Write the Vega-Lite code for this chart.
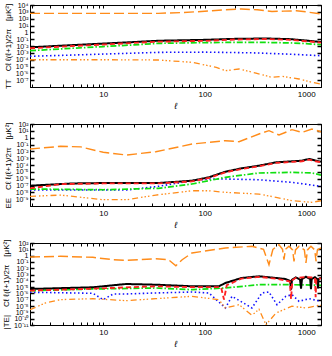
{
  "$schema": "https://vega.github.io/schema/vega-lite/v6.json",
  "padding": {"left": 2, "top": 0, "right": 4, "bottom": 0},
  "bounds": "flush",
  "spacing": 37,
  "config": {
    "font": "Liberation Sans",
    "view": {"stroke": "black", "strokeWidth": 1},
    "axis": {"grid": false, "domainColor": "black", "tickColor": "black", "labelColor": "black", "titleColor": "black", "labelFont": "Liberation Sans", "titleFont": "Liberation Sans", "titleFontWeight": "normal", "labelFlush": false, "labelBound": false, "labelOverlap": false}
  },
  "datasets": {
    "cl": [
      {"panel":"TT","series":"E","l":1.9,"cl":600},{"panel":"TT","series":"E","l":5,"cl":600},{"panel":"TT","series":"E","l":10,"cl":600},{"panel":"TT","series":"E","l":35,"cl":600},{"panel":"TT","series":"E","l":60,"cl":790},{"panel":"TT","series":"E","l":100,"cl":1200},{"panel":"TT","series":"E","l":160,"cl":2000},{"panel":"TT","series":"E","l":230,"cl":2600},{"panel":"TT","series":"E","l":330,"cl":2000},{"panel":"TT","series":"E","l":460,"cl":1120},{"panel":"TT","series":"E","l":600,"cl":1260},{"panel":"TT","series":"E","l":800,"cl":1410},{"panel":"TT","series":"E","l":1000,"cl":1000},{"panel":"TT","series":"E","l":1400,"cl":480},
      {"panel":"TT","series":"D","l":1.9,"cl":3.09e-4},{"panel":"TT","series":"D","l":5,"cl":4.79e-4},{"panel":"TT","series":"D","l":10,"cl":6.61e-4},{"panel":"TT","series":"D","l":20,"cl":9.12e-4},{"panel":"TT","series":"D","l":35,"cl":1.17e-3},{"panel":"TT","series":"D","l":100,"cl":1.26e-3},{"panel":"TT","series":"D","l":300,"cl":1e-3},{"panel":"TT","series":"D","l":700,"cl":6.31e-4},{"panel":"TT","series":"D","l":1400,"cl":3.8e-4},
      {"panel":"TT","series":"C","l":1.9,"cl":2.04e-3},{"panel":"TT","series":"C","l":5,"cl":4.68e-3},{"panel":"TT","series":"C","l":10,"cl":8.32e-3},{"panel":"TT","series":"C","l":20,"cl":1.45e-2},{"panel":"TT","series":"C","l":35,"cl":2.45e-2},{"panel":"TT","series":"C","l":100,"cl":3.16e-2},{"panel":"TT","series":"C","l":340,"cl":3.47e-2},{"panel":"TT","series":"C","l":700,"cl":2.82e-2},{"panel":"TT","series":"C","l":1000,"cl":2.24e-2},{"panel":"TT","series":"C","l":1400,"cl":1.55e-2},
      {"panel":"TT","series":"A","l":1.9,"cl":6.46e-3},{"panel":"TT","series":"A","l":5,"cl":1.35e-2},{"panel":"TT","series":"A","l":10,"cl":2.24e-2},{"panel":"TT","series":"A","l":20,"cl":3.8e-2},{"panel":"TT","series":"A","l":35,"cl":5.89e-2},{"panel":"TT","series":"A","l":100,"cl":7.94e-2},{"panel":"TT","series":"A","l":200,"cl":0.112},{"panel":"TT","series":"A","l":400,"cl":0.126},{"panel":"TT","series":"A","l":700,"cl":0.1},{"panel":"TT","series":"A","l":1000,"cl":6.31e-2},{"panel":"TT","series":"A","l":1400,"cl":3.8e-2},
      {"panel":"TT","series":"B","l":1.9,"cl":4.68e-3},{"panel":"TT","series":"B","l":5,"cl":1e-2},{"panel":"TT","series":"B","l":10,"cl":1.66e-2},{"panel":"TT","series":"B","l":20,"cl":2.82e-2},{"panel":"TT","series":"B","l":35,"cl":4.27e-2},{"panel":"TT","series":"B","l":100,"cl":5.62e-2},{"panel":"TT","series":"B","l":200,"cl":8.91e-2},{"panel":"TT","series":"B","l":400,"cl":0.105},{"panel":"TT","series":"B","l":700,"cl":7.94e-2},{"panel":"TT","series":"B","l":1000,"cl":5.01e-2},{"panel":"TT","series":"B","l":1400,"cl":3.16e-2},
      {"panel":"TT","series":"F","l":1.9,"cl":9.8e-5},{"panel":"TT","series":"F","l":10,"cl":9.8e-5},{"panel":"TT","series":"F","l":35,"cl":8.9e-5},{"panel":"TT","series":"F","l":75,"cl":4.07e-5},{"panel":"TT","series":"F","l":130,"cl":7.59e-6},{"panel":"TT","series":"F","l":160,"cl":2.4e-6},{"panel":"TT","series":"F","l":218,"cl":4.27e-6},{"panel":"TT","series":"F","l":320,"cl":1.1e-6},{"panel":"TT","series":"F","l":460,"cl":2.57e-7},{"panel":"TT","series":"F","l":577,"cl":3.63e-7},{"panel":"TT","series":"F","l":849,"cl":1.48e-7},{"panel":"TT","series":"F","l":1140,"cl":4.79e-8},{"panel":"TT","series":"F","l":1400,"cl":2.69e-8},

      {"panel":"EE","series":"E","l":1.9,"cl":2.19e-2},{"panel":"EE","series":"E","l":3.8,"cl":5.37e-2},{"panel":"EE","series":"E","l":6,"cl":4.47e-2},{"panel":"EE","series":"E","l":10,"cl":7.24e-3},{"panel":"EE","series":"E","l":17,"cl":2.88e-3},{"panel":"EE","series":"E","l":33,"cl":8.71e-3},{"panel":"EE","series":"E","l":75,"cl":0.117},{"panel":"EE","series":"E","l":160,"cl":0.363},{"panel":"EE","series":"E","l":218,"cl":0.257},{"panel":"EE","series":"E","l":343,"cl":3.47},{"panel":"EE","series":"E","l":430,"cl":10.5},{"panel":"EE","series":"E","l":540,"cl":2.45},{"panel":"EE","series":"E","l":725,"cl":14.8},{"panel":"EE","series":"E","l":910,"cl":6.03},{"panel":"EE","series":"E","l":1140,"cl":18.6},{"panel":"EE","series":"E","l":1400,"cl":7.08},
      {"panel":"EE","series":"D","l":1.9,"cl":2.19e-8},{"panel":"EE","series":"D","l":17,"cl":2.19e-8},{"panel":"EE","series":"D","l":35,"cl":7.59e-8},{"panel":"EE","series":"D","l":75,"cl":5.01e-7},{"panel":"EE","series":"D","l":110,"cl":8.91e-7},{"panel":"EE","series":"D","l":160,"cl":8.91e-7},{"panel":"EE","series":"D","l":343,"cl":6.92e-7},{"panel":"EE","series":"D","l":725,"cl":2.88e-7},{"panel":"EE","series":"D","l":1400,"cl":7.59e-8},
      {"panel":"EE","series":"C","l":1.9,"cl":3.02e-8},{"panel":"EE","series":"C","l":10,"cl":2.4e-8},{"panel":"EE","series":"C","l":35,"cl":3.89e-8},{"panel":"EE","series":"C","l":75,"cl":1.66e-7},{"panel":"EE","series":"C","l":160,"cl":1.58e-6},{"panel":"EE","series":"C","l":343,"cl":6.76e-6},{"panel":"EE","series":"C","l":725,"cl":8.51e-6},{"panel":"EE","series":"C","l":1140,"cl":6.76e-6},{"panel":"EE","series":"C","l":1400,"cl":3.39e-6},
      {"panel":"EE","series":"A","l":1.9,"cl":9.33e-8},{"panel":"EE","series":"A","l":5,"cl":2.0e-7},{"panel":"EE","series":"A","l":10,"cl":2.29e-7},{"panel":"EE","series":"A","l":35,"cl":2.29e-7},{"panel":"EE","series":"A","l":75,"cl":5.01e-7},{"panel":"EE","series":"A","l":110,"cl":1.58e-6},{"panel":"EE","series":"A","l":160,"cl":1.05e-5},{"panel":"EE","series":"A","l":230,"cl":3.24e-5},{"panel":"EE","series":"A","l":343,"cl":7.94e-5},{"panel":"EE","series":"A","l":505,"cl":2.45e-4},{"panel":"EE","series":"A","l":725,"cl":3.47e-4},{"panel":"EE","series":"A","l":910,"cl":4.27e-4},{"panel":"EE","series":"A","l":1067,"cl":7.59e-4},{"panel":"EE","series":"A","l":1240,"cl":4.27e-4},{"panel":"EE","series":"A","l":1400,"cl":3.02e-4},
      {"panel":"EE","series":"B","l":1.9,"cl":3.8e-8},{"panel":"EE","series":"B","l":3.8,"cl":1.58e-7},{"panel":"EE","series":"B","l":10,"cl":2.0e-7},{"panel":"EE","series":"B","l":35,"cl":2.0e-7},{"panel":"EE","series":"B","l":75,"cl":4.0e-7},{"panel":"EE","series":"B","l":110,"cl":1.26e-6},{"panel":"EE","series":"B","l":160,"cl":8.5e-6},{"panel":"EE","series":"B","l":230,"cl":2.6e-5},{"panel":"EE","series":"B","l":343,"cl":6.5e-5},{"panel":"EE","series":"B","l":505,"cl":2.0e-4},{"panel":"EE","series":"B","l":725,"cl":2.8e-4},{"panel":"EE","series":"B","l":910,"cl":3.5e-4},{"panel":"EE","series":"B","l":1067,"cl":6.0e-4},{"panel":"EE","series":"B","l":1240,"cl":3.5e-4},{"panel":"EE","series":"B","l":1400,"cl":2.5e-4},
      {"panel":"EE","series":"F","l":1.9,"cl":2.57e-9},{"panel":"EE","series":"F","l":3.8,"cl":3.98e-9},{"panel":"EE","series":"F","l":10,"cl":8.32e-10},{"panel":"EE","series":"F","l":17,"cl":8.32e-10},{"panel":"EE","series":"F","l":33,"cl":3.98e-9},{"panel":"EE","series":"F","l":75,"cl":1.7e-8},{"panel":"EE","series":"F","l":110,"cl":1.7e-8},{"panel":"EE","series":"F","l":160,"cl":1e-8},{"panel":"EE","series":"F","l":343,"cl":5.62e-9},{"panel":"EE","series":"F","l":505,"cl":1.86e-9},{"panel":"EE","series":"F","l":725,"cl":5.89e-10},{"panel":"EE","series":"F","l":1140,"cl":3.47e-10},{"panel":"EE","series":"F","l":1400,"cl":5.89e-10},

      {"panel":"TE","series":"E","l":1.9,"cl":0.603},{"panel":"TE","series":"E","l":3.8,"cl":0.776},{"panel":"TE","series":"E","l":7.9,"cl":0.537},{"panel":"TE","series":"E","l":12.5,"cl":0.224},{"panel":"TE","series":"E","l":16.8,"cl":0.182},{"panel":"TE","series":"E","l":33,"cl":0.324},{"panel":"TE","series":"E","l":44,"cl":0.224},{"panel":"TE","series":"E","l":52,"cl":0.0251},{"panel":"TE","series":"E","l":60,"cl":0.224},{"panel":"TE","series":"E","l":75,"cl":2.63},{"panel":"TE","series":"E","l":160,"cl":16.2},{"panel":"TE","series":"E","l":292,"cl":30.2},{"panel":"TE","series":"E","l":380,"cl":10},{"panel":"TE","series":"E","l":430,"cl":0.0363},{"panel":"TE","series":"E","l":470,"cl":10},{"panel":"TE","series":"E","l":540,"cl":53.7},{"panel":"TE","series":"E","l":585,"cl":10},{"panel":"TE","series":"E","l":604,"cl":0.224},{"panel":"TE","series":"E","l":625,"cl":10},{"panel":"TE","series":"E","l":677,"cl":30.2},{"panel":"TE","series":"E","l":735,"cl":8},{"panel":"TE","series":"E","l":759,"cl":0.126},{"panel":"TE","series":"E","l":785,"cl":8},{"panel":"TE","series":"E","l":850,"cl":30.2},{"panel":"TE","series":"E","l":960,"cl":8},{"panel":"TE","series":"E","l":995,"cl":0.0676},{"panel":"TE","series":"E","l":1030,"cl":8},{"panel":"TE","series":"E","l":1115,"cl":30.2},{"panel":"TE","series":"E","l":1215,"cl":8},{"panel":"TE","series":"E","l":1250,"cl":0.126},{"panel":"TE","series":"E","l":1290,"cl":8},{"panel":"TE","series":"E","l":1400,"cl":16.2},
      {"panel":"TE","series":"D","l":1.9,"cl":1.55e-6},{"panel":"TE","series":"D","l":7.9,"cl":1.07e-6},{"panel":"TE","series":"D","l":10,"cl":1.05e-7},{"panel":"TE","series":"D","l":12.5,"cl":8.0e-7},{"panel":"TE","series":"D","l":16.8,"cl":8.32e-7},{"panel":"TE","series":"D","l":33,"cl":1.2e-6},{"panel":"TE","series":"D","l":75,"cl":1.7e-6},{"panel":"TE","series":"D","l":110,"cl":1.2e-6},{"panel":"TE","series":"D","l":160,"cl":5.01e-9},{"panel":"TE","series":"D","l":186,"cl":3.55e-7},{"panel":"TE","series":"D","l":292,"cl":5.01e-9},{"panel":"TE","series":"D","l":367,"cl":1.2e-6},{"panel":"TE","series":"D","l":430,"cl":1.7e-6},{"panel":"TE","series":"D","l":516,"cl":1.66e-8},{"panel":"TE","series":"D","l":632,"cl":3.55e-7},{"panel":"TE","series":"D","l":725,"cl":6.46e-7},{"panel":"TE","series":"D","l":850,"cl":5.75e-8},{"panel":"TE","series":"D","l":1067,"cl":1.48e-7},{"panel":"TE","series":"D","l":1400,"cl":5.75e-8},
      {"panel":"TE","series":"C","l":1.9,"cl":2.75e-6},{"panel":"TE","series":"C","l":7.9,"cl":5.13e-6},{"panel":"TE","series":"C","l":33,"cl":7.41e-6},{"panel":"TE","series":"C","l":75,"cl":3.98e-6},{"panel":"TE","series":"C","l":160,"cl":7.41e-6},{"panel":"TE","series":"C","l":343,"cl":2.45e-5},{"panel":"TE","series":"C","l":725,"cl":2.45e-5},{"panel":"TE","series":"C","l":1400,"cl":2.0e-5},
      {"panel":"TE","series":"A","l":1.9,"cl":5.13e-6},{"panel":"TE","series":"A","l":7.9,"cl":9.55e-6},{"panel":"TE","series":"A","l":16.8,"cl":3.16e-5},{"panel":"TE","series":"A","l":33,"cl":2.45e-5},{"panel":"TE","series":"A","l":75,"cl":1.38e-5},{"panel":"TE","series":"A","l":138,"cl":1.38e-5},{"panel":"TE","series":"A","l":160,"cl":4.57e-5},{"panel":"TE","series":"A","l":230,"cl":2.82e-4},{"panel":"TE","series":"A","l":343,"cl":5.25e-4},{"panel":"TE","series":"A","l":505,"cl":2.82e-4},{"panel":"TE","series":"A","l":620,"cl":2.0e-4},{"panel":"TE","series":"A","l":695,"cl":1.0e-4},{"panel":"TE","series":"A","l":710,"cl":4.0e-6},{"panel":"TE","series":"A","l":725,"cl":1.5e-4},{"panel":"TE","series":"A","l":790,"cl":3.5e-4},{"panel":"TE","series":"A","l":870,"cl":1.6e-4},{"panel":"TE","series":"A","l":890,"cl":6.0e-6},{"panel":"TE","series":"A","l":910,"cl":2.0e-4},{"panel":"TE","series":"A","l":995,"cl":4.5e-4},{"panel":"TE","series":"A","l":1095,"cl":2.0e-4},{"panel":"TE","series":"A","l":1115,"cl":5.0e-6},{"panel":"TE","series":"A","l":1135,"cl":2.0e-4},{"panel":"TE","series":"A","l":1220,"cl":3.9e-4},{"panel":"TE","series":"A","l":1290,"cl":1.8e-4},{"panel":"TE","series":"A","l":1306,"cl":6.0e-6},{"panel":"TE","series":"A","l":1322,"cl":1.8e-4},{"panel":"TE","series":"A","l":1400,"cl":3.2e-4},
      {"panel":"TE","series":"B","l":1.9,"cl":2.75e-6},{"panel":"TE","series":"B","l":7.9,"cl":5.75e-6},{"panel":"TE","series":"B","l":33,"cl":1.38e-5},{"panel":"TE","series":"B","l":75,"cl":1e-5},{"panel":"TE","series":"B","l":145,"cl":1e-5},{"panel":"TE","series":"B","l":155,"cl":1.05e-7},{"panel":"TE","series":"B","l":165,"cl":2.0e-5},{"panel":"TE","series":"B","l":230,"cl":2.24e-4},{"panel":"TE","series":"B","l":343,"cl":4.17e-4},{"panel":"TE","series":"B","l":505,"cl":2.24e-4},{"panel":"TE","series":"B","l":690,"cl":8.0e-5},{"panel":"TE","series":"B","l":710,"cl":1.26e-7},{"panel":"TE","series":"B","l":730,"cl":1.2e-4},{"panel":"TE","series":"B","l":790,"cl":3.0e-4},{"panel":"TE","series":"B","l":995,"cl":3.8e-4},{"panel":"TE","series":"B","l":1220,"cl":3.2e-4},{"panel":"TE","series":"B","l":1240,"cl":2.51e-7},{"panel":"TE","series":"B","l":1260,"cl":2.0e-4},{"panel":"TE","series":"B","l":1400,"cl":2.51e-4},
      {"panel":"TE","series":"F","l":1.9,"cl":2.69e-9},{"panel":"TE","series":"F","l":2.7,"cl":3.09e-8},{"panel":"TE","series":"F","l":3.8,"cl":1.05e-7},{"panel":"TE","series":"F","l":7.9,"cl":1.48e-7},{"panel":"TE","series":"F","l":16.8,"cl":7.24e-8},{"panel":"TE","series":"F","l":33,"cl":1.48e-7},{"panel":"TE","series":"F","l":75,"cl":3.55e-7},{"panel":"TE","series":"F","l":138,"cl":1.05e-7},{"panel":"TE","series":"F","l":160,"cl":5.01e-9},{"panel":"TE","series":"F","l":218,"cl":1.66e-8},{"panel":"TE","series":"F","l":292,"cl":3.47e-10},{"panel":"TE","series":"F","l":343,"cl":3.16e-9},{"panel":"TE","series":"F","l":402,"cl":1.12e-11},{"panel":"TE","series":"F","l":505,"cl":8.13e-10},{"panel":"TE","series":"F","l":725,"cl":9.33e-9},{"panel":"TE","series":"F","l":995,"cl":5.01e-9},{"panel":"TE","series":"F","l":1337,"cl":1.32e-8},{"panel":"TE","series":"F","l":1400,"cl":1.26e-8}
    ]
  },
  "vconcat": [
    {
      "width": 291, "height": 82,
      "data": {"name": "cl"},
      "transform": [{"filter": "datum.panel == 'TT'"}],
      "layer": [
        {
          "transform": [{"filter": "datum.series != 'F'"}],
          "mark": {"type": "line", "clip": true},
          "encoding": {
            "x": {"field": "l", "type": "quantitative", "scale": {"type": "log", "domain": [1.9, 1400], "nice": false},
                  "axis": {"orient": "bottom", "values": [2,3,4,5,6,7,8,9,10,20,30,40,50,60,70,80,90,100,200,300,400,500,600,700,800,900,1000], "labelExpr": "datum.value == 10 ? '10' : datum.value == 100 ? '100' : datum.value == 1000 ? '1000' : ''", "tickSize": -3, "labelPadding": 6, "labelFontSize": 8, "title": "ℓ", "titleFontStyle": "italic", "titleFontSize": 9, "titlePadding": 3}},
            "y": {"field": "cl", "type": "quantitative", "scale": {"type": "log", "domain": [1e-8, 1e4], "nice": false},
                  "axis": {"orient": "left", "values": [1e4,1e3,1e2,1e1,1,1e-1,1e-2,1e-3,1e-4,1e-5,1e-6,1e-7], "labelExpr": "datum.value == 1 ? '1' : '10' + ['⁻¹¹','⁻¹⁰','⁻⁹','⁻⁸','⁻⁷','⁻⁶','⁻⁵','⁻⁴','⁻³','⁻²','⁻¹','⁰','¹','²','³','⁴'][round(log(datum.value)/LN10) + 11]", "labelFontSize": 7, "tickSize": -4, "tickWidth": 1.5, "labelPadding": 6, "title": "TT\u2003Cℓ ℓ(ℓ+1)/2π\u2003[μK²]", "titleFontSize": 8, "titlePadding": 3}},
            "color": {"field": "series", "type": "nominal", "legend": null, "scale": {"domain": ["A","B","C","D","E","F"], "range": ["#000000","#ff2020","#10e010","#1010ff","#ff8c1a","#ff8c1a"]}},
            "strokeDash": {"field": "series", "type": "nominal", "legend": null, "scale": {"domain": ["A","B","C","D","E","F"], "range": [[1,0],[5,3],[6,2,1.5,2],[1.5,2.5],[10,4],[6,3,1.5,2,1.5,2,1.5,3]]}},
            "strokeWidth": {"field": "series", "type": "nominal", "legend": null, "scale": {"domain": ["A","B","C","D","E","F"], "range": [2,1.3,1.3,1.3,1.8,1.8]}}
          }
        },
        {
          "transform": [{"filter": "datum.series == 'F'"}],
          "mark": {"type": "line", "clip": true},
          "encoding": {
            "x": {"field": "l", "type": "quantitative", "scale": {"type": "log", "domain": [1.9, 1400], "nice": false},
                  "axis": {"orient": "top", "values": [2,3,4,5,6,7,8,9,10,20,30,40,50,60,70,80,90,100,200,300,400,500,600,700,800,900,1000], "labels": false, "tickSize": -3, "title": null}},
            "y": {"field": "cl", "type": "quantitative", "scale": {"type": "log", "domain": [1e-8, 1e4], "nice": false},
                  "axis": {"orient": "right", "values": [1e4,1e3,1e2,1e1,1,1e-1,1e-2,1e-3,1e-4,1e-5,1e-6,1e-7], "labels": false, "tickSize": -4, "tickWidth": 1.5, "title": null}},
            "color": {"field": "series", "type": "nominal", "legend": null, "scale": {"domain": ["A","B","C","D","E","F"], "range": ["#000000","#ff2020","#10e010","#1010ff","#ff8c1a","#ff8c1a"]}},
            "strokeDash": {"field": "series", "type": "nominal", "legend": null, "scale": {"domain": ["A","B","C","D","E","F"], "range": [[1,0],[5,3],[6,2,1.5,2],[1.5,2.5],[10,4],[6,3,1.5,2,1.5,2,1.5,3]]}},
            "strokeWidth": {"field": "series", "type": "nominal", "legend": null, "scale": {"domain": ["A","B","C","D","E","F"], "range": [2,1.3,1.3,1.3,1.8,1.8]}}
          }
        }
      ],
      "resolve": {"axis": {"x": "independent", "y": "independent"}}
    },
    {
      "width": 291, "height": 82,
      "data": {"name": "cl"},
      "transform": [{"filter": "datum.panel == 'EE'"}],
      "layer": [
        {
          "transform": [{"filter": "datum.series != 'F'"}],
          "mark": {"type": "line", "clip": true},
          "encoding": {
            "x": {"field": "l", "type": "quantitative", "scale": {"type": "log", "domain": [1.9, 1400], "nice": false},
                  "axis": {"orient": "bottom", "values": [2,3,4,5,6,7,8,9,10,20,30,40,50,60,70,80,90,100,200,300,400,500,600,700,800,900,1000], "labelExpr": "datum.value == 10 ? '10' : datum.value == 100 ? '100' : datum.value == 1000 ? '1000' : ''", "tickSize": -3, "labelPadding": 6, "labelFontSize": 8, "title": "ℓ", "titleFontStyle": "italic", "titleFontSize": 9, "titlePadding": 3}},
            "y": {"field": "cl", "type": "quantitative", "scale": {"type": "log", "domain": [1e-10, 1e2], "nice": false},
                  "axis": {"orient": "left", "values": [1e2,1e1,1,1e-1,1e-2,1e-3,1e-4,1e-5,1e-6,1e-7,1e-8,1e-9], "labelExpr": "datum.value == 1 ? '1' : '10' + ['⁻¹¹','⁻¹⁰','⁻⁹','⁻⁸','⁻⁷','⁻⁶','⁻⁵','⁻⁴','⁻³','⁻²','⁻¹','⁰','¹','²','³','⁴'][round(log(datum.value)/LN10) + 11]", "labelFontSize": 7, "tickSize": -4, "tickWidth": 1.5, "labelPadding": 6, "title": "EE\u2003Cℓ ℓ(ℓ+1)/2π\u2003[μK²]", "titleFontSize": 8, "titlePadding": 3}},
            "color": {"field": "series", "type": "nominal", "legend": null, "scale": {"domain": ["A","B","C","D","E","F"], "range": ["#000000","#ff2020","#10e010","#1010ff","#ff8c1a","#ff8c1a"]}},
            "strokeDash": {"field": "series", "type": "nominal", "legend": null, "scale": {"domain": ["A","B","C","D","E","F"], "range": [[1,0],[5,3],[6,2,1.5,2],[1.5,2.5],[10,4],[6,3,1.5,2,1.5,2,1.5,3]]}},
            "strokeWidth": {"field": "series", "type": "nominal", "legend": null, "scale": {"domain": ["A","B","C","D","E","F"], "range": [2,1.3,1.3,1.3,1.8,1.8]}}
          }
        },
        {
          "transform": [{"filter": "datum.series == 'F'"}],
          "mark": {"type": "line", "clip": true},
          "encoding": {
            "x": {"field": "l", "type": "quantitative", "scale": {"type": "log", "domain": [1.9, 1400], "nice": false},
                  "axis": {"orient": "top", "values": [2,3,4,5,6,7,8,9,10,20,30,40,50,60,70,80,90,100,200,300,400,500,600,700,800,900,1000], "labels": false, "tickSize": -3, "title": null}},
            "y": {"field": "cl", "type": "quantitative", "scale": {"type": "log", "domain": [1e-10, 1e2], "nice": false},
                  "axis": {"orient": "right", "values": [1e2,1e1,1,1e-1,1e-2,1e-3,1e-4,1e-5,1e-6,1e-7,1e-8,1e-9], "labels": false, "tickSize": -4, "tickWidth": 1.5, "title": null}},
            "color": {"field": "series", "type": "nominal", "legend": null, "scale": {"domain": ["A","B","C","D","E","F"], "range": ["#000000","#ff2020","#10e010","#1010ff","#ff8c1a","#ff8c1a"]}},
            "strokeDash": {"field": "series", "type": "nominal", "legend": null, "scale": {"domain": ["A","B","C","D","E","F"], "range": [[1,0],[5,3],[6,2,1.5,2],[1.5,2.5],[10,4],[6,3,1.5,2,1.5,2,1.5,3]]}},
            "strokeWidth": {"field": "series", "type": "nominal", "legend": null, "scale": {"domain": ["A","B","C","D","E","F"], "range": [2,1.3,1.3,1.3,1.8,1.8]}}
          }
        }
      ],
      "resolve": {"axis": {"x": "independent", "y": "independent"}}
    },
    {
      "width": 291, "height": 82,
      "data": {"name": "cl"},
      "transform": [{"filter": "datum.panel == 'TE'"}],
      "layer": [
        {
          "transform": [{"filter": "datum.series != 'F'"}],
          "mark": {"type": "line", "clip": true},
          "encoding": {
            "x": {"field": "l", "type": "quantitative", "scale": {"type": "log", "domain": [1.9, 1400], "nice": false},
                  "axis": {"orient": "bottom", "values": [2,3,4,5,6,7,8,9,10,20,30,40,50,60,70,80,90,100,200,300,400,500,600,700,800,900,1000], "labelExpr": "datum.value == 10 ? '10' : datum.value == 100 ? '100' : datum.value == 1000 ? '1000' : ''", "tickSize": -3, "labelPadding": 6, "labelFontSize": 8, "title": "ℓ", "titleFontStyle": "italic", "titleFontSize": 9, "titlePadding": 3}},
            "y": {"field": "cl", "type": "quantitative", "scale": {"type": "log", "domain": [1e-11, 1e2], "nice": false},
                  "axis": {"orient": "left", "values": [1e2,1e1,1,1e-1,1e-2,1e-3,1e-4,1e-5,1e-6,1e-7,1e-8,1e-9,1e-10,1e-11], "labelExpr": "datum.value == 1 ? '1' : '10' + ['⁻¹¹','⁻¹⁰','⁻⁹','⁻⁸','⁻⁷','⁻⁶','⁻⁵','⁻⁴','⁻³','⁻²','⁻¹','⁰','¹','²','³','⁴'][round(log(datum.value)/LN10) + 11]", "labelFontSize": 7, "tickSize": -4, "tickWidth": 1.5, "labelPadding": 6, "title": "|TE|\u2003Cℓ ℓ(ℓ+1)/2π\u2003[μK²]", "titleFontSize": 8, "titlePadding": 3}},
            "color": {"field": "series", "type": "nominal", "legend": null, "scale": {"domain": ["A","B","C","D","E","F"], "range": ["#000000","#ff2020","#10e010","#1010ff","#ff8c1a","#ff8c1a"]}},
            "strokeDash": {"field": "series", "type": "nominal", "legend": null, "scale": {"domain": ["A","B","C","D","E","F"], "range": [[1,0],[5,3],[6,2,1.5,2],[1.5,2.5],[10,4],[6,3,1.5,2,1.5,2,1.5,3]]}},
            "strokeWidth": {"field": "series", "type": "nominal", "legend": null, "scale": {"domain": ["A","B","C","D","E","F"], "range": [2,1.3,1.3,1.3,1.8,1.8]}}
          }
        },
        {
          "transform": [{"filter": "datum.series == 'F'"}],
          "mark": {"type": "line", "clip": true},
          "encoding": {
            "x": {"field": "l", "type": "quantitative", "scale": {"type": "log", "domain": [1.9, 1400], "nice": false},
                  "axis": {"orient": "top", "values": [2,3,4,5,6,7,8,9,10,20,30,40,50,60,70,80,90,100,200,300,400,500,600,700,800,900,1000], "labels": false, "tickSize": -3, "title": null}},
            "y": {"field": "cl", "type": "quantitative", "scale": {"type": "log", "domain": [1e-11, 1e2], "nice": false},
                  "axis": {"orient": "right", "values": [1e2,1e1,1,1e-1,1e-2,1e-3,1e-4,1e-5,1e-6,1e-7,1e-8,1e-9,1e-10,1e-11], "labels": false, "tickSize": -4, "tickWidth": 1.5, "title": null}},
            "color": {"field": "series", "type": "nominal", "legend": null, "scale": {"domain": ["A","B","C","D","E","F"], "range": ["#000000","#ff2020","#10e010","#1010ff","#ff8c1a","#ff8c1a"]}},
            "strokeDash": {"field": "series", "type": "nominal", "legend": null, "scale": {"domain": ["A","B","C","D","E","F"], "range": [[1,0],[5,3],[6,2,1.5,2],[1.5,2.5],[10,4],[6,3,1.5,2,1.5,2,1.5,3]]}},
            "strokeWidth": {"field": "series", "type": "nominal", "legend": null, "scale": {"domain": ["A","B","C","D","E","F"], "range": [2,1.3,1.3,1.3,1.8,1.8]}}
          }
        }
      ],
      "resolve": {"axis": {"x": "independent", "y": "independent"}}
    }
  ]
}
